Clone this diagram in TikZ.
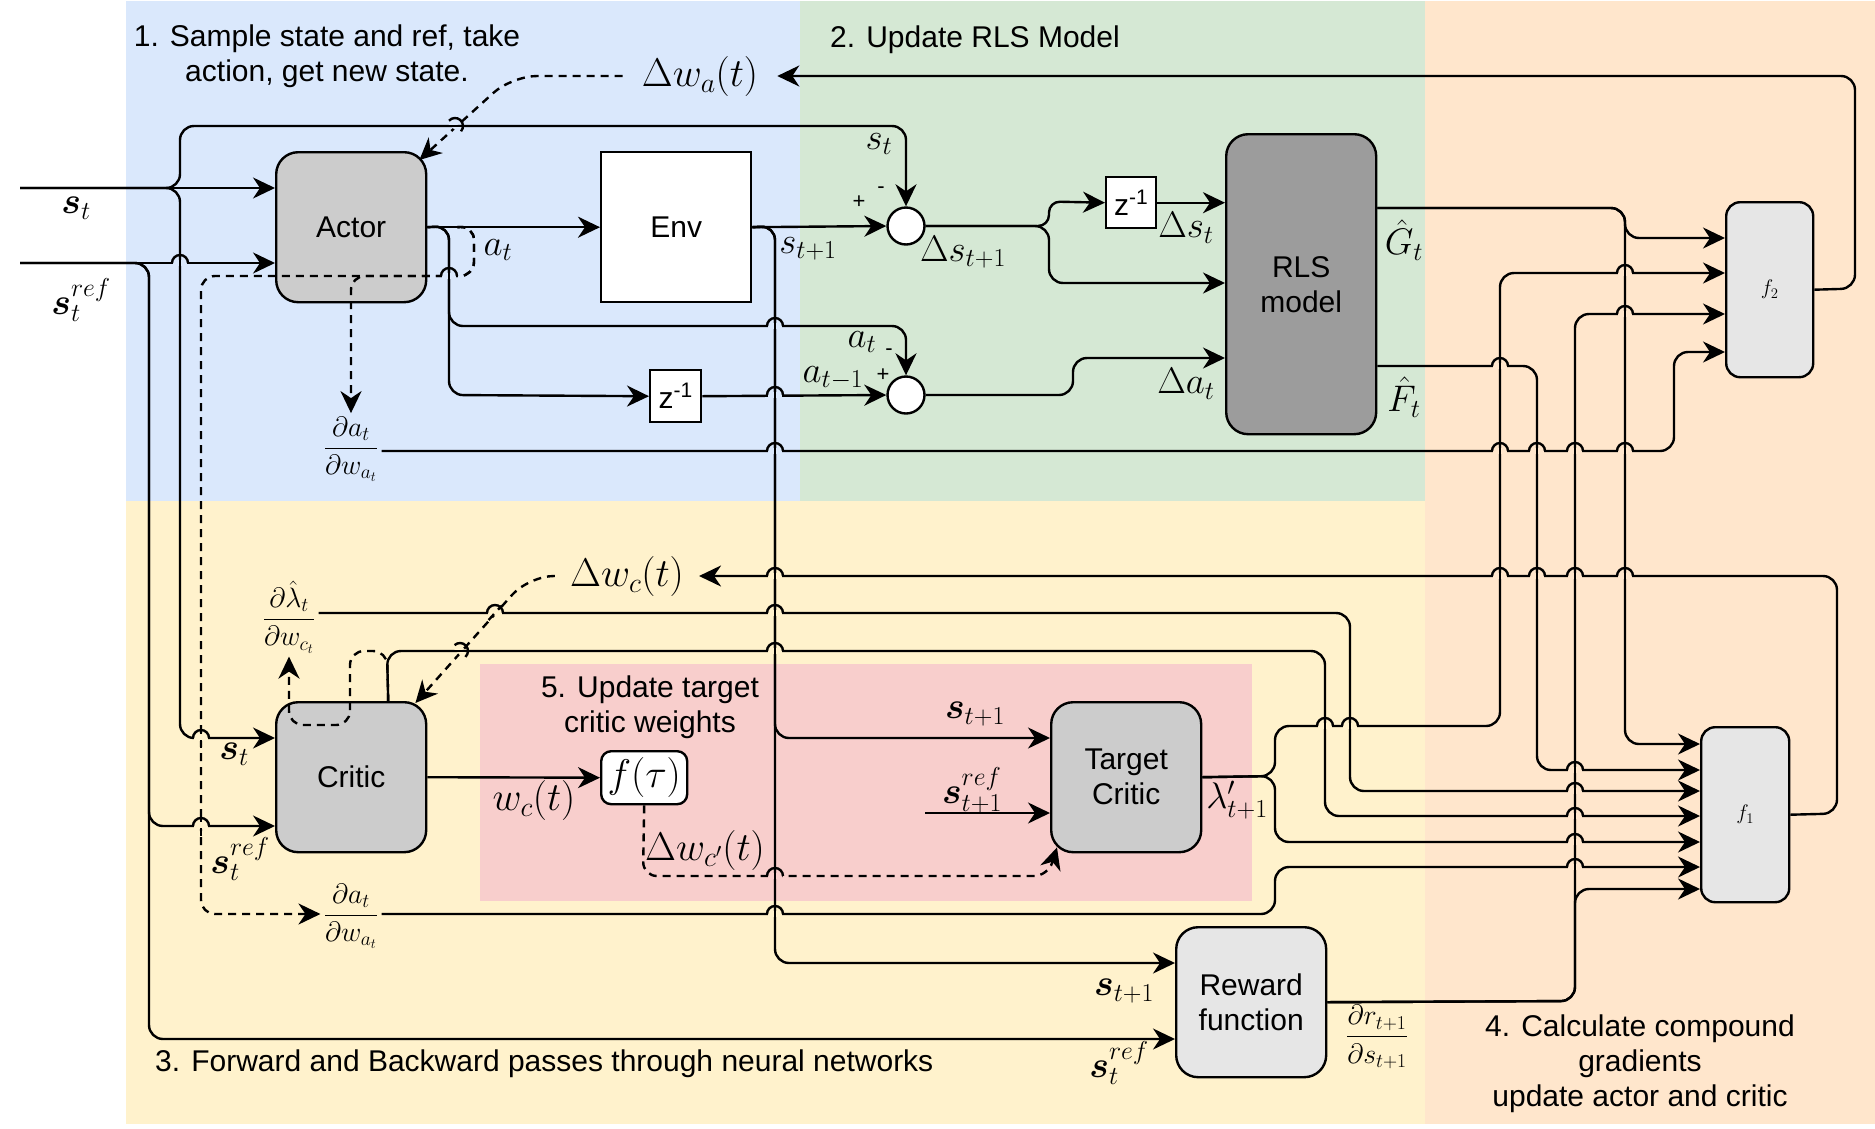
\RequirePackage{fix-cm}
\documentclass[tikz,border=0pt]{standalone}
\usepackage{fontspec}
\setmainfont{Liberation Sans}
\usepackage{amsmath}
\usetikzlibrary{arrows.meta}
\definecolor{cblue}{HTML}{DAE8FC}
\definecolor{cgreen}{HTML}{D5E8D4}
\definecolor{cyellow}{HTML}{FFF2CC}
\definecolor{corange}{HTML}{FFE6CC}
\definecolor{cpink}{HTML}{F8CECC}
\definecolor{gA}{HTML}{CCCCCC}
\definecolor{gB}{HTML}{9C9C9C}
\definecolor{gC}{HTML}{E6E6E6}
\newcommand\txt{\fontsize{30}{35}\selectfont}
\newcommand\mth{\fontsize{37}{44}\selectfont}
\newcommand\mbig{\fontsize{40}{48}\selectfont}
\newcommand\mfr{\fontsize{28}{34}\selectfont}
\newcommand\fsm{\fontsize{21}{24}\selectfont}
\newcommand\fpm{\fontsize{22}{26}\selectfont}
\newcommand\hop[6][]{%
  \begin{scope}[shift={(#2,#3)}]
    \fill[#5,rotate=#4] (-7.4,-2.9) rectangle (7.4,2.9);
    \draw[ln,#1] (#6:9.5) -- (#6+180:9.5);
    \draw[ln,rotate=#4] (-8,0) arc[start angle=180,end angle=360,radius=8];
  \end{scope}}
\tikzset{
  ln/.style={line width=2.4pt},
  cn/.style={ln,rounded corners=14pt,line join=round},
  ar/.style={cn,-{Stealth[length=22pt,width=21pt,inset=7pt]}},
  dsh/.style={cn,dash pattern=on 8pt off 6pt},
  dar/.style={dsh,-{Stealth[length=22pt,width=21pt,inset=7pt]}},
  box/.style={draw,line width=2.4pt,anchor=north west,align=center,font=\txt,inner sep=0pt},
  bigbox/.style={box,rounded corners=22pt,minimum width=150pt,minimum height=150pt},
  lbl/.style={inner sep=0pt,font=\mth},
  ttl/.style={inner sep=0pt,font=\txt,align=center},
  pm/.style={inner sep=0pt,font=\fpm},
  sumc/.style={draw,line width=2.4pt,circle,fill=white,minimum size=37pt,inner sep=0pt},
}
\begin{document}
\begin{tikzpicture}[x=1pt,y=-1pt]
\useasboundingbox (0,0) rectangle (1875,1128);
% background regions
\fill[cblue] (126,1) rectangle (800,501);
\fill[cgreen] (800,1) rectangle (1425,501);
\fill[cyellow] (126,501) rectangle (1425,1124);
\fill[corange] (1425,1) rectangle (1875,1124);
\fill[cpink] (480,664) rectangle (1252,901);
% region titles
\node[ttl] (t1) at (327,56) {1. Sample state and ref, take\\action, get new state.};
\node[ttl,anchor=west] (t2) at (830,40) {2. Update RLS Model};
\node[ttl,anchor=west] (t3) at (155,1064) {3. Forward and Backward passes through neural networks};
\node[ttl] (t4) at (1640,1064) {4. Calculate compound\\gradients\\update actor and critic};
\node[ttl] (t5) at (650,707) {5. Update target\\critic weights};
% blocks
\node[bigbox,fill=gA] (actor) at (275,151) {Actor};
\node[bigbox,fill=white,rounded corners=0pt] (env) at (600,151) {Env};
\node[bigbox,fill=gB,minimum height=300pt] (rls) at (1225,133) {RLS\\model};
\node[bigbox,fill=gA] (critic) at (275,701) {Critic};
\node[bigbox,fill=gA] (tc) at (1050,701) {Target\\Critic};
\node[bigbox,fill=gC] (reward) at (1175,926) {Reward\\function};
\node[box,fill=gC,rounded corners=14pt,minimum width=87pt,minimum height=175pt,font=\fsm] (f2) at (1725,201) {$f_2$};
\node[box,fill=gC,rounded corners=14pt,minimum width=88pt,minimum height=175pt,font=\fsm] (f1) at (1700,726) {$f_1$};
\node[box,fill=white,rounded corners=10pt,minimum width=86pt,minimum height=53pt,font=\mbig] (ftau) at (600,750) {$f(\tau)$};
\node[box,fill=white,minimum width=50pt,minimum height=51pt] (z1) at (1105,176) {z$^{\text{-1}}$};
\node[box,fill=white,minimum width=51pt,minimum height=52pt] (z2) at (649,369) {z$^{\text{-1}}$};
\node[sumc] (sum1) at (906,226) {};
\node[sumc] (sum2) at (906,395) {};
% labels
\node[lbl,font=\mbig,inner xsep=19pt] (dwa) at (700,76) {$\Delta w_a(t)$};
\node[lbl] (lst) at (76,208) {$\boldsymbol{s}_t$};
\node[lbl] (lsref) at (81,300) {$\boldsymbol{s}_t^{ref}$};
\node[lbl] (lat) at (498,250) {$a_t$};
\node[lbl] (lst1) at (808,249) {$s_{t+1}$};
\node[lbl] (lst2) at (879,144) {$s_t$};
\node[pm] (pl1) at (859,202) {+};
\node[pm] (mi1) at (881,190) {-};
\node[lbl] (ldst1) at (963,252) {$\Delta s_{t+1}$};
\node[lbl] (ldst) at (1186,228) {$\Delta s_t$};
\node[lbl] (lG) at (1404,240) {$\hat G_t$};
\node[lbl] (lF) at (1404,397) {$\hat F_t$};
\node[lbl] (ldat) at (1186,384) {$\Delta a_t$};
\node[lbl] (lat2) at (862,342) {$a_t$};
\node[pm] (mi2) at (889,352) {-};
\node[lbl] (latm) at (833,378) {$a_{t-1}$};
\node[pm] (pl2) at (883,375) {+};
\node[font=\mfr] (dadw1) at (351,449) {$\displaystyle\frac{\partial a_t}{\partial w_{a_t}}$};
\node[lbl,font=\mbig,inner xsep=15pt] (dwc) at (627,576) {$\Delta w_c(t)$};
\node[font=\mfr] (dldw) at (289,617) {$\displaystyle\frac{\partial\hat\lambda_t}{\partial w_{c_t}}$};
\node[lbl] (lcst) at (234,754) {$\boldsymbol{s}_t$};
\node[lbl] (lcsref) at (240,859) {$\boldsymbol{s}_t^{ref}$};
\node[lbl,font=\mbig] (lwc) at (534,800) {$w_c(t)$};
\node[lbl,font=\mbig] (ldwcp) at (705,850) {$\Delta w_{c'}(t)$};
\node[lbl] (ltst1) at (975,714) {$\boldsymbol{s}_{t+1}$};
\node[lbl] (ltsref) at (972,790) {$\boldsymbol{s}_{t+1}^{ref}$};
\node[lbl] (llam) at (1237,800) {$\lambda'_{t+1}$};
\node[font=\mfr] (dadw2) at (351,916) {$\displaystyle\frac{\partial a_t}{\partial w_{a_t}}$};
\node[lbl] (lrst1) at (1124,991) {$\boldsymbol{s}_{t+1}$};
\node[lbl] (lrsref) at (1119,1063) {$\boldsymbol{s}_t^{ref}$};
\node[font=\mfr] (drds) at (1377,1037) {$\displaystyle\frac{\partial r_{t+1}}{\partial s_{t+1}}$};
% free ends
\coordinate (stin) at (20,188);
\coordinate (srefin) at (20,263);
\coordinate (s1refin) at (925,813);
\coordinate (rlsG) at (rls.east |- 0,208);
\coordinate (rlsF) at (rls.east |- 0,366);
\coordinate (ctop) at ([xshift=37pt]critic.north);
\coordinate (aout) at ([xshift=30pt]actor.east);
% connectors: inputs
\draw[ar] (stin) -- (actor.west |- stin);
\draw[ar] (stin) -- (180,188) -- (180,126) -- (sum1.north |- 0,126) -- (sum1.north);
\draw[ar] (stin) -- (180,188) -- (180,738) -- (critic.west |- 0,738);
\draw[ar] (srefin) -- (actor.west |- srefin);
\draw[ar] (srefin) -- (149,263) -- (149,826) -- (critic.west |- 0,826);
\draw[ar] (srefin) -- (149,263) -- (149,1039) -- (reward.west |- 0,1039);
% actor / env
\draw[ar] (actor.east) -- (env.west);
\draw[ar] (actor.east) -- (449,226) -- (449,326) -- (sum2.north |- 0,326) -- (sum2.north);
\draw[ar] (actor.east) -- (449,226) -- (449,395) -- (z2.west);
\draw[ar] (z2.east) -- (sum2.west);
\draw[ar] (env.east) -- (sum1.west);
\draw[ar] (env.east) -- (775,226) -- (775,738) -- (tc.west |- 0,738);
\draw[ar] (env.east) -- (775,226) -- (775,963) -- (reward.west |- 0,963);
% RLS
\draw[ar,rounded corners=11pt] (sum1.east) -- (1049,226) -- (1049,201.5) -- (z1.west);
\draw[ar] (sum1.east) -- (1049,226) -- (1049,283) -- (rls.west |- 0,283);
\draw[ar] (z1.east) -- (rls.west |- z1.east);
\draw[ar] (sum2.east) -- (1073,395) -- (1073,358) -- (rls.west |- 0,358);
\draw[ar] (rlsG) -- (1625,208) -- (1625,238) -- (f2.west |- 0,238);
\draw[ar] (rlsG) -- (1625,208) -- (1625,744) -- (f1.west |- 0,744);
\draw[ar] (rlsF) -- (1537,366) -- (1537,770) -- (f1.west |- 0,770);
\draw[ar] (dadw1.east |- 0,451) -- (1674,451) -- (1674,352) -- (f2.west |- 0,352);
\draw[ar] (f2.east) -- (1855,288.5) -- (1855,76) -- (dwa.east);
\draw[dar,rounded corners=25pt] (dwa.west) -- (512,76) -- ([shift={(-8,9)}]actor.north east);
% critic
\draw[ar] (critic.east) -- (ftau.west);
\draw[ar] (ctop) -- (387,651) -- (1325,651) -- (1325,816) -- (f1.west |- 0,816);
\draw[dar] (ctop) -- (387,651) -- (350,651) -- (350,725) -- (289,725) -- (dldw.south);
\draw[ar] (dldw.east |- 0,613) -- (1350,613) -- (1350,791) -- (f1.west |- 0,791);
\draw[ar] (f1.east) -- (1837,813.5) -- (1837,576) -- (dwc.east);
\draw[dar,rounded corners=25pt] (dwc.west) -- (529,576) -- ([shift={(-12,2)}]critic.north east);
\draw[dar] (ftau.south) -- (643,876) -- (1048,876) -- ([shift={(7,-6)}]tc.south west);
% target critic and reward
\draw[ar] (s1refin) -- (tc.west |- s1refin);
\draw[ar] (tc.east) -- (1275,776) -- (1275,726) -- (1500,726) -- (1500,273) -- (f2.west |- 0,273);
\draw[ar] (tc.east) -- (1275,776) -- (1275,842) -- (f1.west |- 0,842);
\draw[ar] (dadw2.east |- 0,914) -- (1275,914) -- (1275,867) -- (f1.west |- 0,867);
\draw[ar] (reward.east) -- (1575,1001) -- (1575,889) -- (f1.west |- 0,889);
\draw[ar] (reward.east) -- (1575,1001) -- (1575,314) -- (f2.west |- 0,314);
% dashed gradients from actor output
\draw[dar] (aout) -- (474,226) -- (474,276) -- (201,276) -- (201,914) -- (dadw2.west |- 0,914);
\draw[dar] (aout) -- (474,226) -- (474,276) -- (351,276) -- (dadw1.north);
% line jumps
\hop{180}{263}{0}{cblue}{90}
\hop{775}{326}{0}{cblue}{90}
\hop{775}{395}{0}{cblue}{90}
\hop{775}{451}{0}{cblue}{90}
\hop{449}{276}{0}{cblue}{90}
\hop{455}{126}{-41.5}{cblue}{0}
\hop[dash pattern=on 8pt off 6pt]{201}{738}{0}{cyellow}{90}
\hop[dash pattern=on 8pt off 6pt]{201}{826}{0}{cyellow}{90}
\hop{775}{576}{0}{cyellow}{90}
\hop{775}{613}{0}{cyellow}{90}
\hop{775}{651}{0}{cyellow}{90}
\hop{775}{914}{0}{cyellow}{90}
\hop[dash pattern=on 8pt off 6pt]{495}{613}{0}{cyellow}{132.4}
\hop{460}{651}{-47.6}{cyellow}{0}
\hop{1325}{726}{0}{cyellow}{90}
\hop{1350}{726}{0}{cyellow}{90}
\hop{775}{876}{0}{cpink}{90}
\hop{1500}{366}{0}{corange}{90}
\foreach \xx in {1500,1537,1575,1625} {\hop{\xx}{451}{0}{corange}{90}\hop{\xx}{576}{0}{corange}{90}}
\hop{1625}{273}{0}{corange}{90}
\hop{1625}{314}{0}{corange}{90}
\foreach \yy in {770,791,816,842,867} {\hop{1575}{\yy}{0}{corange}{90}}
\end{tikzpicture}
\end{document}
